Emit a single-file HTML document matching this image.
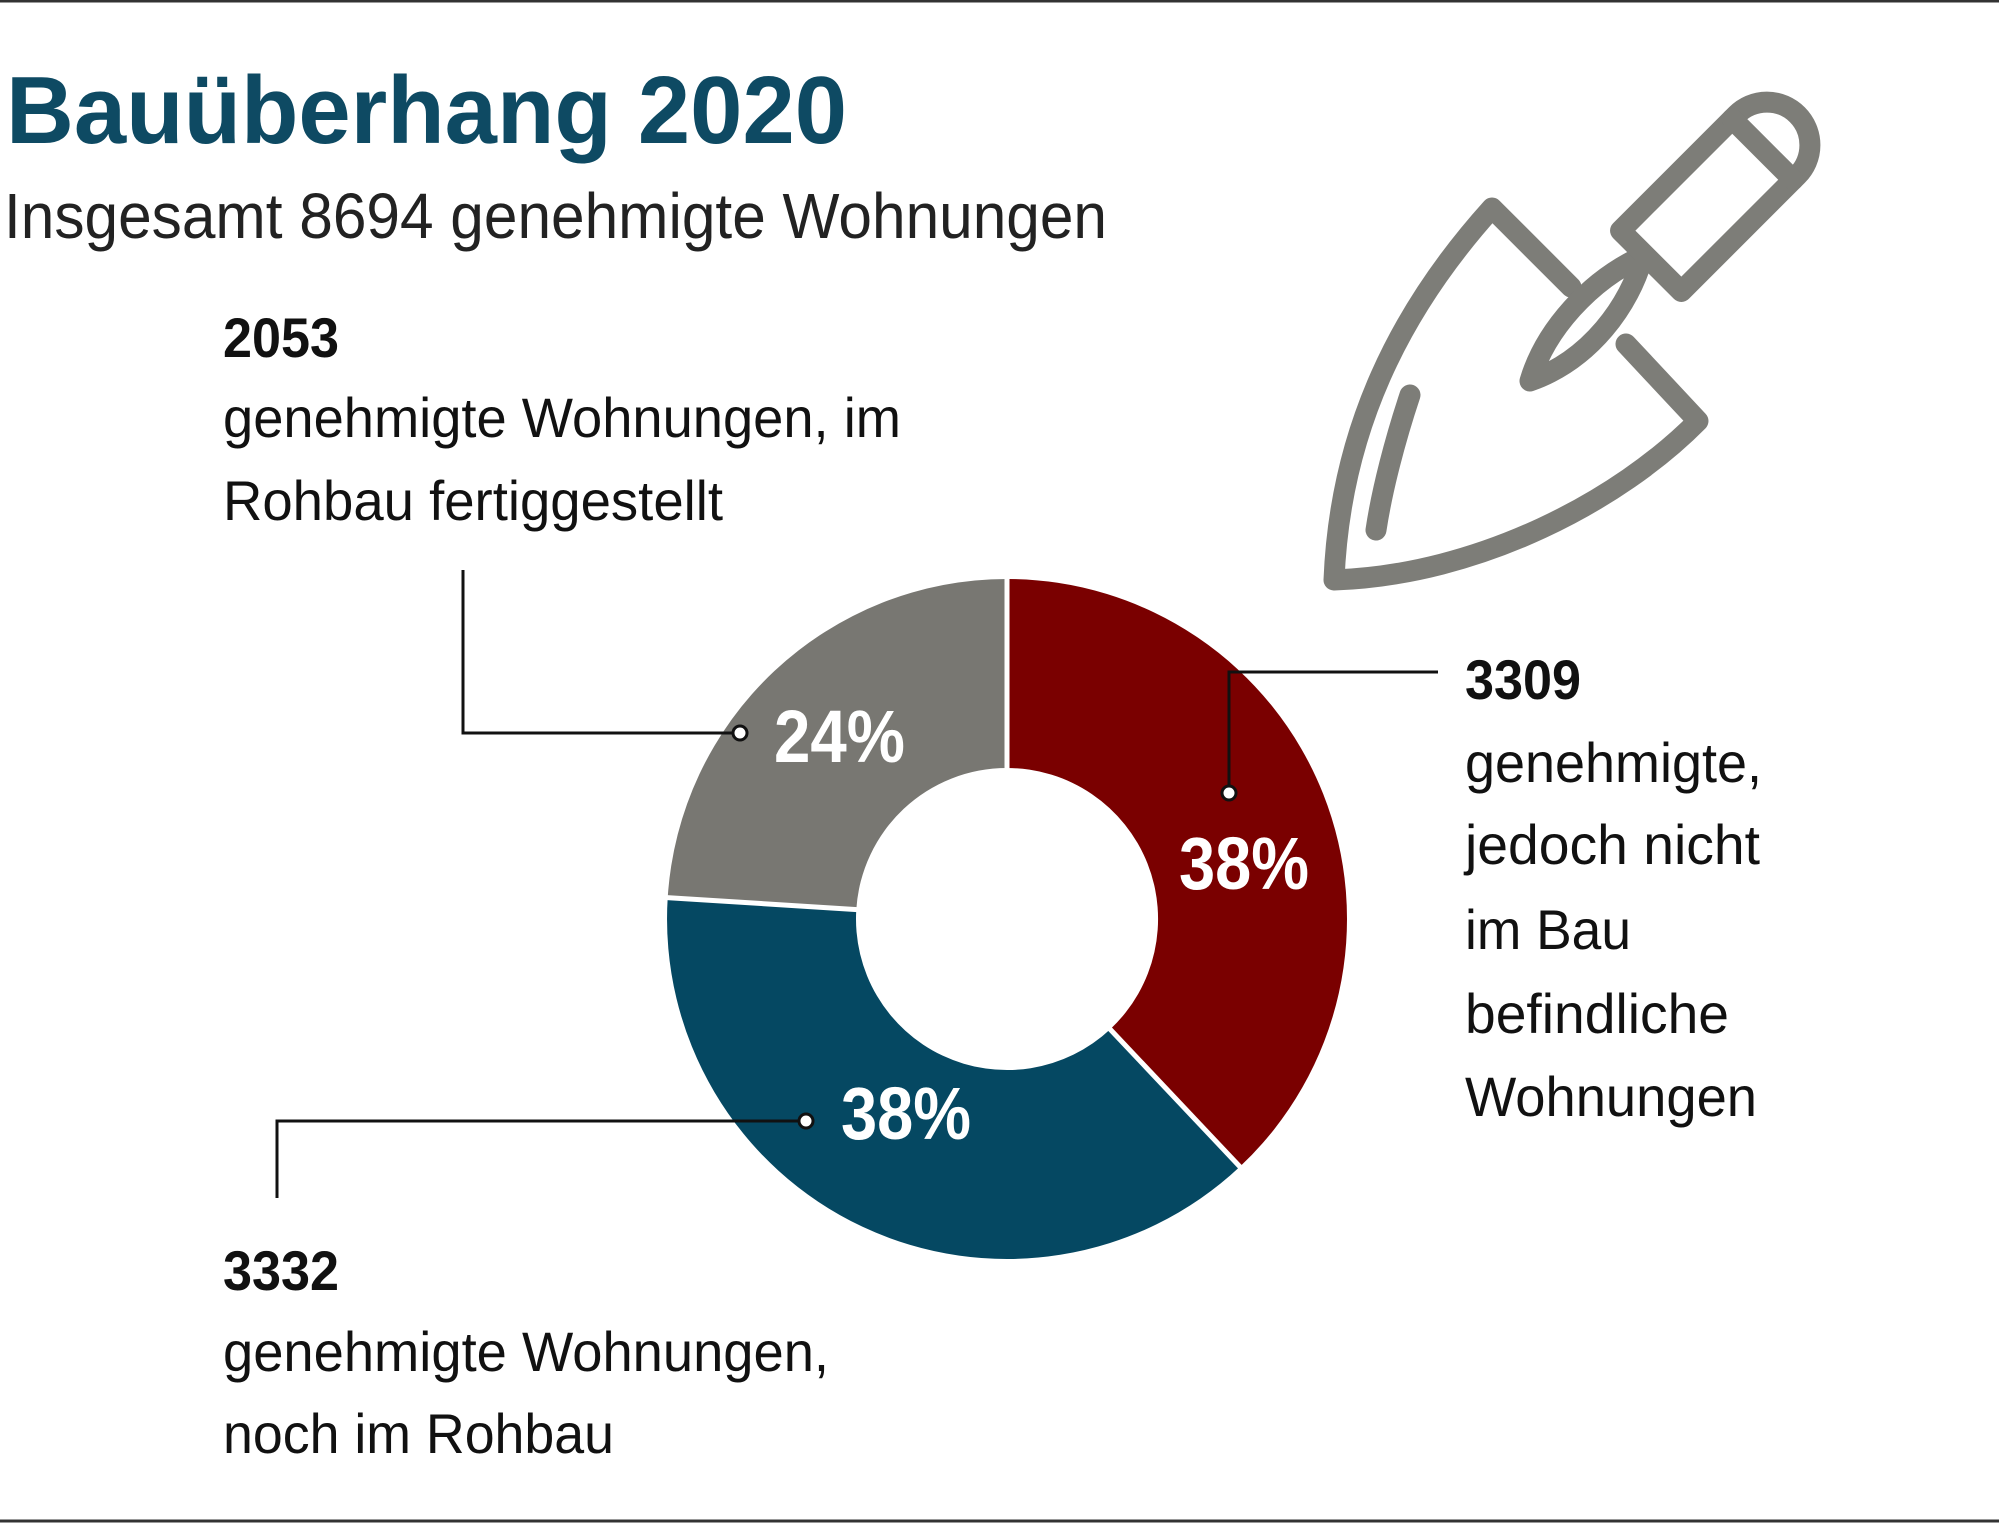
<!DOCTYPE html>
<html><head><meta charset="utf-8"><style>
html,body{margin:0;padding:0;background:#fff;}
svg{display:block;font-family:"Liberation Sans",sans-serif;}
</style></head><body>
<svg width="1999" height="1524" viewBox="0 0 1999 1524" xmlns="http://www.w3.org/2000/svg">
<rect width="1999" height="1524" fill="#fff"/>
<line x1="0" y1="1" x2="1999" y2="1" stroke="#333" stroke-width="3"/>
<line x1="0" y1="1521" x2="1999" y2="1521" stroke="#333" stroke-width="3"/>

<text x="6" y="143" font-size="96" font-weight="bold" fill="#0e4a63" textLength="841" lengthAdjust="spacingAndGlyphs">Bauüberhang 2020</text>
<text x="4" y="238" font-size="64" fill="#222" textLength="1103" lengthAdjust="spacingAndGlyphs">Insgesamt 8694 genehmigte Wohnungen</text>

<!-- donut -->
<g transform="translate(1007,919)">
<path d="M0,-340 A340,340 0 0 1 232.8,247.8 L103.4,110.1 A151,151 0 0 0 0,-151 Z" fill="#7a0000"/>
<path d="M232.8,247.8 A340,340 0 0 1 -339.3,-21.3 L-150.7,-9.5 A151,151 0 0 0 103.4,110.1 Z" fill="#054862"/>
<path d="M-339.3,-21.3 A340,340 0 0 1 0,-340 L0,-151 A151,151 0 0 0 -150.7,-9.5 Z" fill="#787772"/>
<g stroke="#fff" stroke-width="5">
<line x1="0" y1="-345" x2="0" y2="-148"/>
<line x1="236" y1="251" x2="101" y2="108"/>
<line x1="-344" y1="-21.6" x2="-148" y2="-9.3"/>
</g>
</g>

<g font-weight="bold" fill="#fff" font-size="74">
<text x="774" y="762" textLength="131" lengthAdjust="spacingAndGlyphs">24%</text>
<text x="1179" y="889" textLength="130" lengthAdjust="spacingAndGlyphs">38%</text>
<text x="841" y="1139" textLength="130" lengthAdjust="spacingAndGlyphs">38%</text>
</g>

<!-- leader lines -->
<g fill="none" stroke="#111" stroke-width="3">
<polyline points="463,570 463,733 740,733"/>
<polyline points="1229,793 1229,672 1438,672"/>
<polyline points="806,1121 277,1121 277,1198"/>
</g>
<g fill="#fff" stroke="#111" stroke-width="3">
<circle cx="740" cy="733" r="7"/>
<circle cx="1229" cy="793" r="7"/>
<circle cx="806" cy="1121" r="7"/>
</g>

<g fill="#111" font-size="56">
<text x="223" y="357" font-weight="bold" textLength="116" lengthAdjust="spacingAndGlyphs">2053</text>
<text x="223" y="437" textLength="678" lengthAdjust="spacingAndGlyphs">genehmigte Wohnungen, im</text>
<text x="223" y="520" textLength="500" lengthAdjust="spacingAndGlyphs">Rohbau fertiggestellt</text>

<text x="1465" y="699" font-weight="bold" textLength="116" lengthAdjust="spacingAndGlyphs">3309</text>
<text x="1465" y="782" textLength="297" lengthAdjust="spacingAndGlyphs">genehmigte,</text>
<text x="1465" y="864" textLength="295" lengthAdjust="spacingAndGlyphs">jedoch nicht</text>
<text x="1465" y="949" textLength="166" lengthAdjust="spacingAndGlyphs">im Bau</text>
<text x="1465" y="1033" textLength="264" lengthAdjust="spacingAndGlyphs">befindliche</text>
<text x="1465" y="1116" textLength="292" lengthAdjust="spacingAndGlyphs">Wohnungen</text>

<text x="223" y="1290" font-weight="bold" textLength="116" lengthAdjust="spacingAndGlyphs">3332</text>
<text x="223" y="1371" textLength="606" lengthAdjust="spacingAndGlyphs">genehmigte Wohnungen,</text>
<text x="223" y="1453" textLength="391" lengthAdjust="spacingAndGlyphs">noch im Rohbau</text>
</g>

<!-- trowel -->
<g fill="none" stroke="#7d7d78" stroke-width="21" stroke-linecap="round" stroke-linejoin="round">
<path d="M1571,287 L1492,208 C1400,310 1340,430 1334,580 C1480,575 1620,500 1698,421 L1626,344"/>
<path d="M1530,381 C1545,330 1590,280 1643,256 C1630,305 1590,360 1530,381 Z"/>
<path d="M1410,395 C1395,440 1382,490 1376,530"/>
<g transform="translate(1716,196) rotate(-45)">
<path d="M-92,-43 L72,-43 A43,43 0 0 1 72,43 L-92,43 Z"/>
<line x1="66" y1="-43" x2="66" y2="43"/>
</g>
</g>
</svg>
</body></html>
